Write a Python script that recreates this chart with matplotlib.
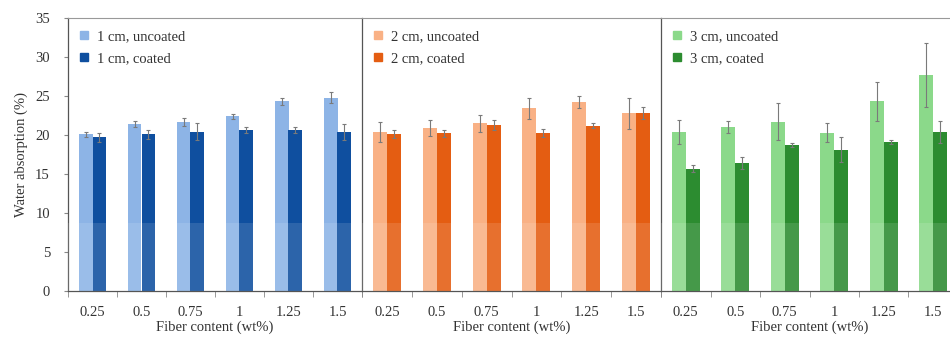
import matplotlib
matplotlib.use("Agg")
import matplotlib.pyplot as plt
from matplotlib.lines import Line2D
import numpy as np

plt.rcParams["font.family"] = ["Liberation Serif", "DejaVu Serif"]

fiber = ["0.25", "0.5", "0.75", "1", "1.25", "1.5"]
lengths = ["1 cm", "2 cm", "3 cm"]

# water absorption (%) and standard deviations, per fibre length
uncoated = [
    [20.1, 21.4, 21.7, 22.4, 24.3, 24.8],
    [20.4, 20.9, 21.5, 23.4, 24.2, 22.8],
    [20.4, 21.0, 21.7, 20.3, 24.3, 27.7],
]
uncoated_err = [
    [0.3, 0.4, 0.5, 0.3, 0.5, 0.7],
    [1.3, 1.0, 1.1, 1.4, 0.8, 2.0],
    [1.5, 0.8, 2.4, 1.2, 2.5, 4.1],
]
coated = [
    [19.7, 20.1, 20.4, 20.6, 20.6, 20.4],
    [20.1, 20.2, 21.3, 20.3, 21.2, 22.8],
    [15.7, 16.4, 18.7, 18.1, 19.1, 20.4],
]
coated_err = [
    [0.6, 0.6, 1.1, 0.4, 0.4, 1.0],
    [0.5, 0.4, 0.6, 0.5, 0.3, 0.8],
    [0.4, 0.8, 0.3, 1.6, 0.3, 1.4],
]

light = ["#8db4e6", "#f9b185", "#8bd98a"]
dark = ["#0f4f9f", "#e45d12", "#2c8c30"]

fig = plt.figure(figsize=(9.5, 3.41), dpi=100)
W, H = 950.0, 341.0
edges = [68, 362, 661, 958]
bottom, top = 291, 18

x = np.arange(len(fiber))
bw = 0.28
axes = []
for i in range(3):
    ax = fig.add_axes([edges[i] / W, 1 - bottom / H,
                       (edges[i + 1] - edges[i]) / W, (bottom - top) / H])
    axes.append(ax)
    ax.bar(x - bw / 2, uncoated[i], bw, color=light[i], zorder=2)
    ax.bar(x + bw / 2, coated[i], bw, color=dark[i], zorder=2)
    ax.errorbar(x - bw / 2, uncoated[i], yerr=uncoated_err[i], fmt="none",
                ecolor="#7a7a7a", elinewidth=0.8, capsize=1.5, capthick=0.8, zorder=3)
    ax.errorbar(x + bw / 2, coated[i], yerr=coated_err[i], fmt="none",
                ecolor="#7a7a7a", elinewidth=0.8, capsize=1.5, capthick=0.8, zorder=3)
    # pale band across the lower part of the bars
    ax.axhspan(0, 8.7, color="white", alpha=0.12, lw=0, zorder=4)

    ax.set_xlim(-0.5, 5.5)
    ax.set_ylim(0, 35)
    ax.set_xticks(x)
    ax.set_xticklabels(fiber, fontsize=10.5, color="#333333")
    ax.set_xticks(np.arange(-0.5, 6, 1), minor=True)
    ax.tick_params(axis="x", which="major", length=0, pad=11)
    ax.tick_params(axis="x", which="minor", length=4, color="#888888", direction="out")
    ax.set_xlabel("Fiber content (wt%)", fontsize=10.5, color="#333333", labelpad=1)

    for side in ["top", "right"]:
        ax.spines[side].set_color("#999999")
        ax.spines[side].set_linewidth(0.8)
    ax.spines["bottom"].set_color("#555555")
    ax.spines["left"].set_color("#555555")
    ax.spines["bottom"].set_linewidth(0.9)
    ax.spines["left"].set_linewidth(0.9)
    if i < 2:
        ax.spines["right"].set_visible(False)

    if i == 0:
        ax.set_yticks(np.arange(0, 36, 5))
        ax.tick_params(axis="y", length=3, color="#888888", labelsize=10.5,
                       labelcolor="#333333", pad=10)
        ax.set_ylabel("Water absorption (%)", fontsize=10.5, color="#333333", labelpad=5)
    else:
        ax.set_yticks([])

    handles = [
        Line2D([], [], marker="s", ls="none", ms=6, color=light[i]),
        Line2D([], [], marker="s", ls="none", ms=6, color=dark[i]),
    ]
    ax.legend(handles, [f"{lengths[i]}, uncoated", f"{lengths[i]}, coated"],
              loc="upper left", bbox_to_anchor=(0.0, 0.995), frameon=False,
              fontsize=10.5, handlelength=0.8, handletextpad=0.5,
              labelspacing=0.62, borderaxespad=0.3, labelcolor="#333333")

fig.savefig("out.png", dpi=100, facecolor="white")
